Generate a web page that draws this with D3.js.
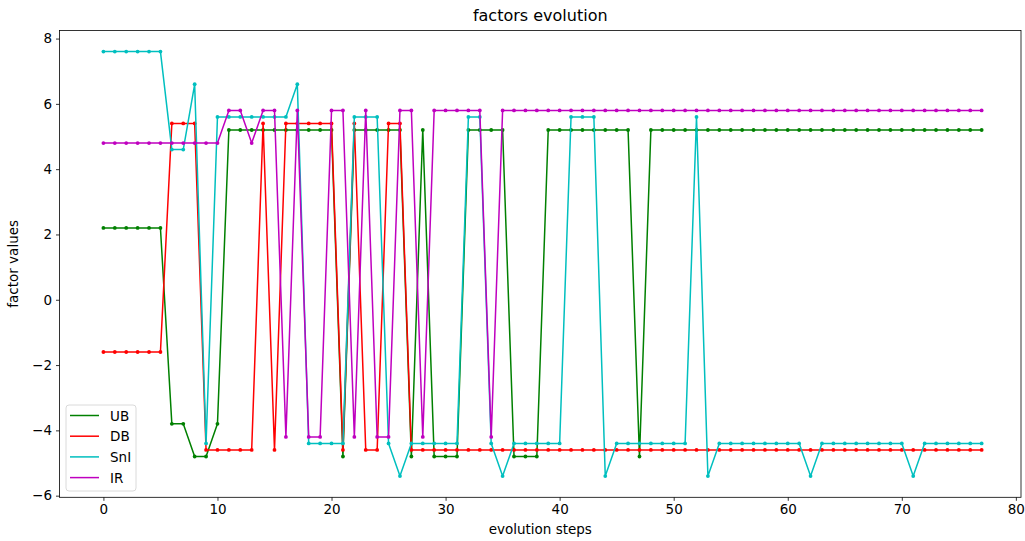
<!DOCTYPE html>
<html lang="en">
<head>
  <meta charset="utf-8">
  <title>factors evolution</title>
  <script src="https://cdn.jsdelivr.net/npm/d3@7"></script>
  <style>
  body {
    margin: 0;
    background: #fff;
    font-family: 'DejaVu Sans', sans-serif;
  }
  .tick text { font-size: 13.5px; fill: #000; }
  .tick line { stroke: #000; stroke-width: 0.8; }
  </style>
</head>
<body>
<script>
// evolution step index (0..77)
var steps = [0,1,2,3,4,5,6,7,8,9,10,11,12,13,14,15,16,17,18,19,20,21,22,23,24,25,26,27,28,29,30,31,32,33,34,35,36,37,38,
  39,40,41,42,43,44,45,46,47,48,49,50,51,52,53,54,55,56,57,58,59,60,61,62,63,64,65,66,67,68,69,70,71,72,73,74,75,76,77];

var ubValues = [2.2,2.2,2.2,2.2,2.2,2.2,-3.8,-3.8,-4.8,-4.8,-3.8,5.2,5.2,5.2,5.2,5.2,5.2,5.2,5.2,5.2,5.2,-4.8,5.2,5.2,5.2,5.2,5.2,-4.8,5.2,-4.8,
  -4.8,-4.8,5.2,5.2,5.2,5.2,-4.8,-4.8,-4.8,5.2,5.2,5.2,5.2,5.2,5.2,5.2,5.2,-4.8,5.2,5.2,5.2,5.2,5.2,5.2,5.2,5.2,5.2,5.2,5.2,5.2,
  5.2,5.2,5.2,5.2,5.2,5.2,5.2,5.2,5.2,5.2,5.2,5.2,5.2,5.2,5.2,5.2,5.2,5.2];

var dbValues = [-1.6,-1.6,-1.6,-1.6,-1.6,-1.6,5.4,5.4,5.4,-4.6,-4.6,-4.6,-4.6,-4.6,5.4,-4.6,5.4,5.4,5.4,5.4,5.4,-4.6,5.4,-4.6,-4.6,5.4,5.4,-4.6,-4.6,-4.6,
  -4.6,-4.6,-4.6,-4.6,-4.6,-4.6,-4.6,-4.6,-4.6,-4.6,-4.6,-4.6,-4.6,-4.6,-4.6,-4.6,-4.6,-4.6,-4.6,-4.6,-4.6,-4.6,-4.6,-4.6,-4.6,-4.6,-4.6,-4.6,-4.6,-4.6,
  -4.6,-4.6,-4.6,-4.6,-4.6,-4.6,-4.6,-4.6,-4.6,-4.6,-4.6,-4.6,-4.6,-4.6,-4.6,-4.6,-4.6,-4.6];

var sniValues = [7.6,7.6,7.6,7.6,7.6,7.6,4.6,4.6,6.6,-4.4,5.6,5.6,5.6,5.6,5.6,5.6,5.6,6.6,-4.4,-4.4,-4.4,-4.4,5.6,5.6,5.6,-4.4,-5.4,-4.4,-4.4,-4.4,
  -4.4,-4.4,5.6,5.6,-4.4,-5.4,-4.4,-4.4,-4.4,-4.4,-4.4,5.6,5.6,5.6,-5.4,-4.4,-4.4,-4.4,-4.4,-4.4,-4.4,-4.4,5.6,-5.4,-4.4,-4.4,-4.4,-4.4,-4.4,-4.4,
  -4.4,-4.4,-5.4,-4.4,-4.4,-4.4,-4.4,-4.4,-4.4,-4.4,-4.4,-5.4,-4.4,-4.4,-4.4,-4.4,-4.4,-4.4];

var irValues = [4.8,4.8,4.8,4.8,4.8,4.8,4.8,4.8,4.8,4.8,4.8,5.8,5.8,4.8,5.8,5.8,-4.2,5.8,-4.2,-4.2,5.8,5.8,-4.2,5.8,-4.2,-4.2,5.8,5.8,-4.2,5.8,
  5.8,5.8,5.8,5.8,-4.2,5.8,5.8,5.8,5.8,5.8,5.8,5.8,5.8,5.8,5.8,5.8,5.8,5.8,5.8,5.8,5.8,5.8,5.8,5.8,5.8,5.8,5.8,5.8,5.8,5.8,
  5.8,5.8,5.8,5.8,5.8,5.8,5.8,5.8,5.8,5.8,5.8,5.8,5.8,5.8,5.8,5.8,5.8,5.8];

var seriesNames = ["UB", "DB", "SnI", "IR"];
var seriesColours = ["#008000", "#ff0000", "#00bfbf", "#bf00bf"];
var xTicks = [0, 10, 20, 30, 40, 50, 60, 70, 80];
var yTicks = [-6, -4, -2, 0, 2, 4, 6, 8];

var w = 1025;
var h = 541;
// plot box edges (note: "top" is taken by window.top)
var padL = 59.5, padR = 1021, padT = 30.4, padB = 497.3;

var svg = d3.select("body")
  .append("svg")
  .attr("width", w)
  .attr("height", h);

var x = d3.scaleLinear()
  .domain([-3.85, 80.45])
  .range([padL, padR]);

var y = d3.scaleLinear()
  .domain([-6.05, 8.25])
  .range([padB, padT]);

var allValues = [ubValues, dbValues, sniValues, irValues];

var line = d3.line()
  .x(function(d) { return x(d[0]); })
  .y(function(d) { return y(d[1]); });

var plot = svg.append("g");

allValues.forEach(function(vals, k) {
  var pts = steps.map(function(s, i) { return [s, vals[i]]; });
  plot.append("path")
    .datum(pts)
    .attr("d", line)
    .attr("fill", "none")
    .attr("stroke", seriesColours[k])
    .attr("stroke-width", 1.5)
    .attr("stroke-linejoin", "round");
  plot.selectAll(".dot" + k)
    .data(pts)
    .enter()
    .append("circle")
    .attr("class", "dot" + k)
    .attr("cx", function(d) { return x(d[0]); })
    .attr("cy", function(d) { return y(d[1]); })
    .attr("r", 1.9)
    .attr("fill", seriesColours[k]);
});

// axes
svg.append("g")
  .attr("transform", "translate(0," + padB + ")")
  .call(d3.axisBottom(x).tickValues(xTicks).tickSize(3.5).tickPadding(4));
svg.append("g")
  .attr("transform", "translate(" + padL + ",0)")
  .call(d3.axisLeft(y).tickValues(yTicks).tickSize(3.5).tickPadding(4));
svg.selectAll(".domain").remove();
svg.selectAll(".tick text").attr("font-family", "DejaVu Sans");

// frame
svg.append("rect")
  .attr("x", padL)
  .attr("y", padT)
  .attr("width", padR - padL)
  .attr("height", padB - padT)
  .attr("fill", "none")
  .attr("stroke", "#000")
  .attr("stroke-width", 0.8);

svg.append("text")
  .attr("x", (padL + padR) / 2)
  .attr("y", 21)
  .attr("text-anchor", "middle")
  .attr("font-size", "16px")
  .text("factors evolution");

svg.append("text")
  .attr("x", (padL + padR) / 2)
  .attr("y", 534)
  .attr("text-anchor", "middle")
  .attr("font-size", "13.5px")
  .text("evolution steps");

svg.append("text")
  .attr("transform", "translate(18," + ((padT + padB) / 2) + ") rotate(-90)")
  .attr("text-anchor", "middle")
  .attr("font-size", "13.5px")
  .text("factor values");

// legend
var legend = svg.append("g")
  .attr("transform", "translate(66,405)");
legend.append("rect")
  .attr("width", 70)
  .attr("height", 86)
  .attr("rx", 3)
  .attr("fill", "#fff")
  .attr("fill-opacity", 0.8)
  .attr("stroke", "#d0d0d0")
  .attr("stroke-width", 0.8);

seriesNames.forEach(function(name, i) {
  var ly = 10.5 + i * 20.7;
  legend.append("line")
    .attr("x1", 4).attr("x2", 33)
    .attr("y1", ly).attr("y2", ly)
    .attr("stroke", seriesColours[i])
    .attr("stroke-width", 1.5);
  legend.append("text")
    .attr("x", 44)
    .attr("y", ly + 5)
    .attr("font-size", "13.5px")
    .text(name);
});
</script>
</body>
</html>
